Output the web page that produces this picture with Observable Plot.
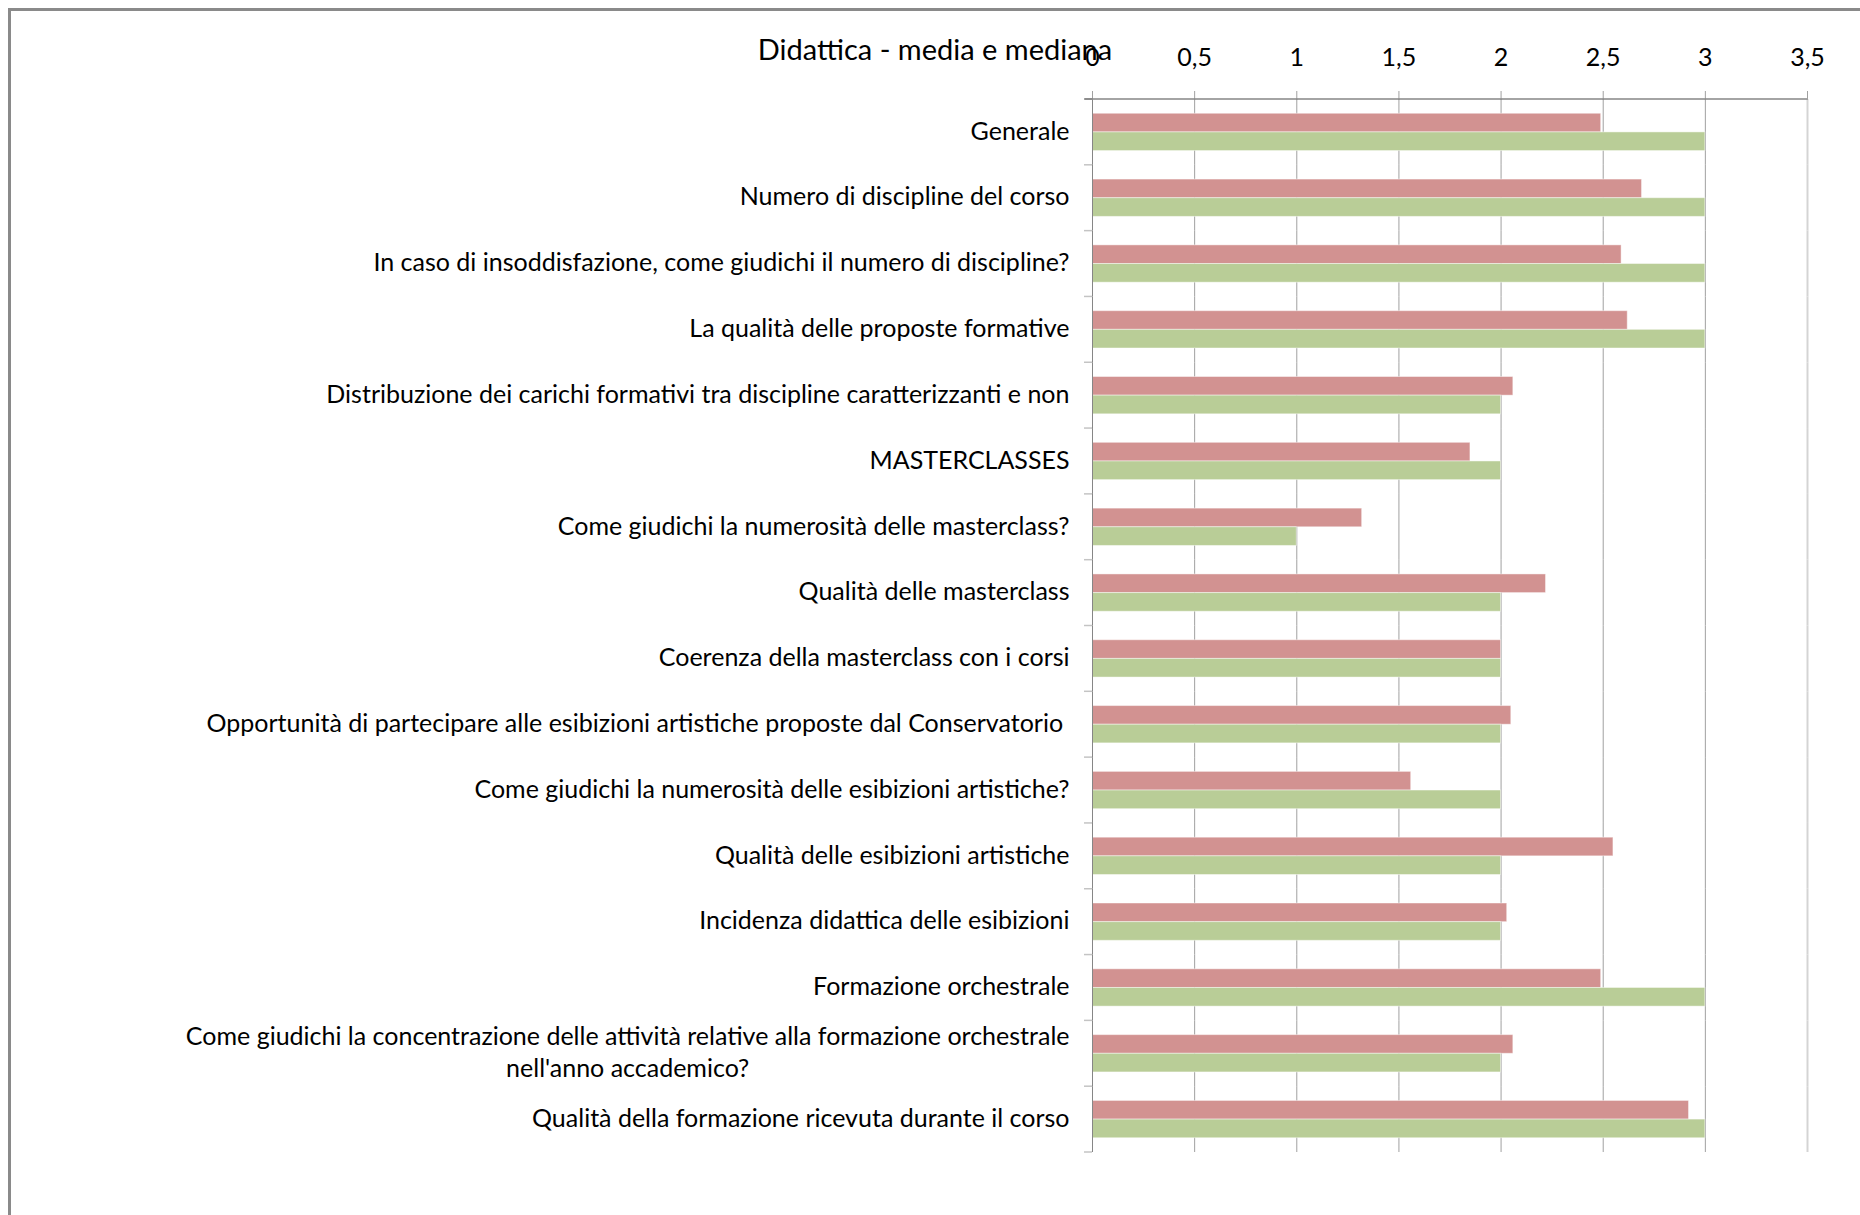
<!DOCTYPE html>
<html><head><meta charset="utf-8">
<script src="https://cdn.jsdelivr.net/npm/d3@7"></script>
<script src="https://cdn.jsdelivr.net/npm/@observablehq/plot@0.6"></script>
<style>
html,body{margin:0;padding:0;background:#fff;}
#wrap{position:relative;width:1860px;height:1215px;overflow:hidden;}
#border{position:absolute;left:8px;top:8px;width:1900px;height:1300px;border-left:3px solid #8a8a8a;border-top:3px solid #8a8a8a;}
#chart{position:absolute;left:0;top:0;}
#title{position:absolute;top:31px;left:0;width:1870px;text-align:center;font-family:Lato,sans-serif;font-size:29px;line-height:36px;color:#000;}
</style></head>
<body><div id="wrap"><div id="border"></div><div id="chart"></div><div id="title">Didattica - media e mediana</div></div>
<script>
const categories = [
  "Generale",
  "Numero di discipline del corso",
  "In caso di insoddisfazione, come giudichi il numero di discipline?",
  "La qualità delle proposte formative",
  "Distribuzione dei carichi formativi tra discipline caratterizzanti e non",
  "MASTERCLASSES",
  "Come giudichi la numerosità delle masterclass?",
  "Qualità delle masterclass",
  "Coerenza della masterclass con i corsi",
  "Opportunità di partecipare alle esibizioni artistiche proposte dal Conservatorio\u00a0",
  "Come giudichi la numerosità delle esibizioni artistiche?",
  "Qualità delle esibizioni artistiche",
  "Incidenza didattica delle esibizioni",
  "Formazione orchestrale",
  "Come giudichi la concentrazione delle attività relative alla formazione orchestrale\nnell'anno accademico?",
  "Qualità della formazione ricevuta durante il corso"
];
const media   = [2.49, 2.69, 2.59, 2.62, 2.06, 1.85, 1.32, 2.22, 2.00, 2.05, 1.56, 2.55, 2.03, 2.49, 2.06, 2.92];
const mediana = [3, 3, 3, 3, 2, 2, 1, 2, 2, 2, 2, 2, 2, 3, 2, 3];
const seriesNames = ["media", "mediana"];
const seriesColors = ["#d29291", "#b9cd97"];
const xTicks = [0, 0.5, 1, 1.5, 2, 2.5, 3, 3.5];

const data = categories.flatMap((c, i) => [
  {categoria: c, serie: seriesNames[0], valore: media[i]},
  {categoria: c, serie: seriesNames[1], valore: mediana[i]}
]);

const chart = Plot.plot({
  width: 1860, height: 1215,
  marginLeft: 1092, marginRight: 53, marginTop: 99, marginBottom: 63,
  style: {fontFamily: "Lato, sans-serif", fontSize: "25px", color: "#000", background: "transparent"},
  x: {domain: [0, 3.5], ticks: xTicks},
  y: {domain: seriesNames, paddingInner: 0, paddingOuter: 0.764, round: false, axis: null},
  fy: {domain: categories, paddingInner: 0, paddingOuter: 0, round: false},
  color: {domain: seriesNames, range: seriesColors},
  marks: [
    Plot.gridX(xTicks.filter(t => t > 0 && t < 3.5), {stroke: "#a0a0a0", strokeOpacity: 1}),
    Plot.ruleX([3.5], {stroke: "#d4d4d4", strokeWidth: 2}),
    Plot.barX(data, {fy: "categoria", y: "serie", x: "valore", fill: "serie", stroke: "#fff", strokeOpacity: 0.45, strokeWidth: 1}),
    Plot.ruleX([0], {stroke: "#868686"}),
    Plot.axisX({anchor: "top", ticks: xTicks, tickSize: 9, tickPadding: 25, stroke: "#a0a0a0",
      tickFormat: d => String(d).replace(".", ","), label: null}),
    Plot.axisFy({anchor: "left", tickSize: 0, tickPadding: 23, label: null, lineHeight: 1.28, dy: -3})
  ]
});
document.getElementById("chart").append(chart);

// centre the lines of multi-line category labels
chart.querySelectorAll('[aria-label^="fy-axis"] text').forEach(t => {
  const spans = t.querySelectorAll("tspan");
  if (spans.length > 1) {
    const ws = [...spans].map(s => s.getComputedTextLength());
    const W = Math.max(...ws);
    spans.forEach((s, i) => s.setAttribute("x", -(W - ws[i]) / 2));
  }
});

// top axis line and category separators drawn from the chart's own scales
const fy = chart.scale("fy"), x = chart.scale("x");
const svg = d3.select(chart);
const x0 = x.apply(0), x1 = x.apply(3.5);
const yTop = fy.apply(categories[0]);
const g = svg.append("g").attr("aria-label", "separators");
const bounds = categories.map(c => fy.apply(c)).concat([fy.apply(categories[categories.length - 1]) + fy.bandwidth]);
bounds.forEach((yy, i) => {
  g.append("line").attr("x1", x0 - 8).attr("x2", x0).attr("y1", yy).attr("y2", yy)
    .attr("stroke", i === 0 ? "#868686" : "#c4c4c4").attr("stroke-width", 1.5);
});
g.append("line").attr("x1", x0 - 7).attr("x2", x1).attr("y1", yTop).attr("y2", yTop)
  .attr("stroke", "#868686").attr("stroke-width", 1.5);
</script>
</body></html>
